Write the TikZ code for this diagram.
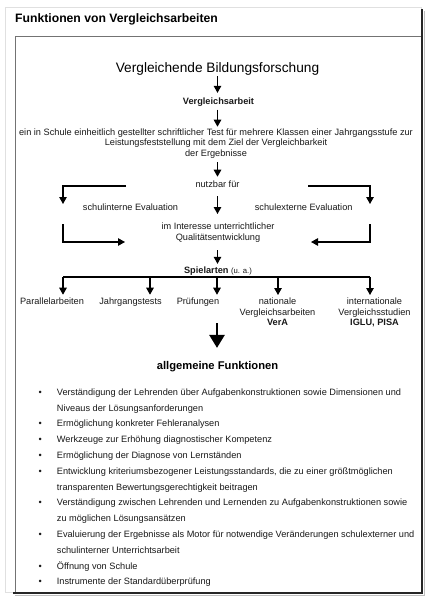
\documentclass[tikz,border=0pt]{standalone}
\usepackage{fontspec}
\setmainfont{Liberation Sans}
\usetikzlibrary{arrows.meta}
\begin{document}
\begin{tikzpicture}[x=1pt,y=-1pt,
  txt/.style={inner sep=0pt, font=\fontsize{9.2}{10.5}\selectfont, align=center, text=black!90},
  arr/.style={line width=1.2pt, -{Triangle[width=7.5pt,length=7pt]}},
  ln/.style={line width=1.2pt},
  bigarr/.style={line width=2.7pt, -{Triangle[width=15pt,length=13pt]}},
  frameline/.style={line width=0.8pt, black!55}]
\useasboundingbox (0,0) rectangle (429,600);
\fill[white] (0,0) rectangle (429,600);
% frame
\draw[black!12, line width=0.6pt] (5,7) rectangle (421,592);
\draw[black!25, line width=1pt] (424.5,11) -- (424.5,595.5) -- (15,595.5);
\draw[black!85, line width=2pt] (422,9) -- (422,593) -- (13,593);
\draw[frameline] (15,36) -- (421,36);
\draw[frameline] (15,36) -- (15,592);
% title
\node[inner sep=0pt, anchor=base west, font=\fontsize{12.2}{14}\selectfont\bfseries] (title) at (15,22) {Funktionen von Vergleichsarbeiten};
% central chain
\node[inner sep=0pt, anchor=base, font=\fontsize{13.7}{16}\selectfont] (vbf) at (217.5,72) {Vergleichende Bildungsforschung};
\node[txt, anchor=base, font=\fontsize{9.2}{10.5}\selectfont\bfseries] (va) at (218.5,104) {Vergleichsarbeit};
\node[txt, anchor=north] (def) at (216,128.3) {ein in Schule einheitlich gestellter schriftlicher Test f\"ur mehrere Klassen einer Jahrgangsstufe zur\\Leistungsfeststellung mit dem Ziel der Vergleichbarkeit\\der Ergebnisse};
\node[txt, anchor=base] (nutz) at (217.5,187.5) {nutzbar f\"ur};
\node[txt, anchor=base] (sie) at (130.5,210) {schulinterne Evaluation};
\node[txt, anchor=base] (see) at (303.7,210) {schulexterne Evaluation};
\node[txt, anchor=north] (qual) at (218,222.9) {im Interesse unterrichtlicher\\Qualit\"atsentwicklung};
\node[txt, anchor=base] (spiel) at (218,273.5) {\textbf{Spielarten} {\fontsize{7.7}{9}\selectfont (u. a.)}};
% variants
\node[txt, anchor=base] (par) at (52,304.5) {Parallelarbeiten};
\node[txt, anchor=base] (jahr) at (130.5,304.5) {Jahrgangstests};
\node[txt, anchor=base] (pru) at (198,304.5) {Pr\"ufungen};
\node[txt, anchor=north] (nat) at (277.5,297.9) {nationale\\Vergleichsarbeiten\\\textbf{VerA}};
\node[txt, anchor=north] (int) at (374.5,297.9) {internationale\\Vergleichsstudien\\\textbf{IGLU, PISA}};
% functions
\node[inner sep=0pt, anchor=base, font=\fontsize{11.2}{13}\selectfont\bfseries] (allg) at (217.5,369.5) {allgemeine Funktionen};
\node[inner sep=0pt, anchor=north west, font=\fontsize{9.2}{15.8}\selectfont, text=black!90] (list) at (38.5,384) {%
\begin{tabular}{@{}p{18.2pt}@{}l@{}}
\textbullet & Verst\"andigung der Lehrenden \"uber Aufgabenkonstruktionen sowie Dimensionen und\\
 & Niveaus der L\"osungsanforderungen\\
\textbullet & Erm\"oglichung konkreter Fehleranalysen\\
\textbullet & Werkzeuge zur Erh\"ohung diagnostischer Kompetenz\\
\textbullet & Erm\"oglichung der Diagnose von Lernst\"anden\\
\textbullet & Entwicklung kriteriumsbezogener Leistungsstandards, die zu einer gr\"o\ss tm\"oglichen\\
 & transparenten Bewertungsgerechtigkeit beitragen\\
\textbullet & Verst\"andigung zwischen Lehrenden und Lernenden zu Aufgabenkonstruktionen sowie\\
 & zu m\"oglichen L\"osungsans\"atzen\\
\textbullet & Evaluierung der Ergebnisse als Motor f\"ur notwendige Ver\"anderungen schulexterner und\\
 & schulinterner Unterrichtsarbeit\\
\textbullet & \"Offnung von Schule\\
\textbullet & Instrumente der Standard\"uberpr\"ufung
\end{tabular}};
% connectors
\draw[arr, shorten <=1.1pt, shorten >=4.3pt] (vbf.south) -- (vbf.south |- va.north);
\draw[arr, shorten <=3.4pt, shorten >=1.6pt] (vbf.south |- va.south) -- (vbf.south |- def.north);
\draw[arr, shorten <=4.1pt, shorten >=3.9pt] (vbf.south |- def.south) -- (vbf.south |- nutz.north);
\draw[arr, shorten <=8.5pt, shorten >=8.9pt] (vbf.south |- nutz.base) -- (vbf.south |- qual.north);
\draw[arr, shorten <=8.1pt, shorten >=2.8pt] (vbf.south |- qual.south) -- (vbf.south |- spiel.north);
% L-shaped arrows
\coordinate (nl) at (126,186);
\coordinate (sl) at (63,204);
\coordinate (nr) at (308,186);
\coordinate (sr) at (370,204);
\draw[arr] (nl) -| (sl);
\draw[arr] (nr) -| (sr);
\coordinate (ql) at (63,224);
\coordinate (qlt) at (125,242);
\coordinate (qr) at (370,224);
\coordinate (qrt) at (311,242);
\draw[arr] (ql) |- (qlt);
\draw[arr] (qr) |- (qrt);
% bar
\coordinate (b1) at (63,277);
\coordinate (b2) at (150,277);
\coordinate (b3) at (217,277);
\coordinate (b4) at (278,277);
\coordinate (b5) at (370,277);
\draw[ln] (b1) -- (b5);
\draw[arr, shorten >=2.9pt] (b1) -- (b1 |- par.north);
\draw[arr, shorten >=2.9pt] (b2) -- (b2 |- jahr.north);
\draw[arr, shorten >=2.9pt] (b3) -- (b3 |- pru.north);
\draw[arr, shorten >=2.9pt] (b4) -- (b4 |- nat.north);
\draw[arr, shorten >=2.9pt] (b5) -- (b5 |- int.north);
\coordinate (bigs) at (217,323);
\draw[bigarr, shorten >=13.3pt] (bigs) -- (bigs |- allg.north);
\end{tikzpicture}
\end{document}
